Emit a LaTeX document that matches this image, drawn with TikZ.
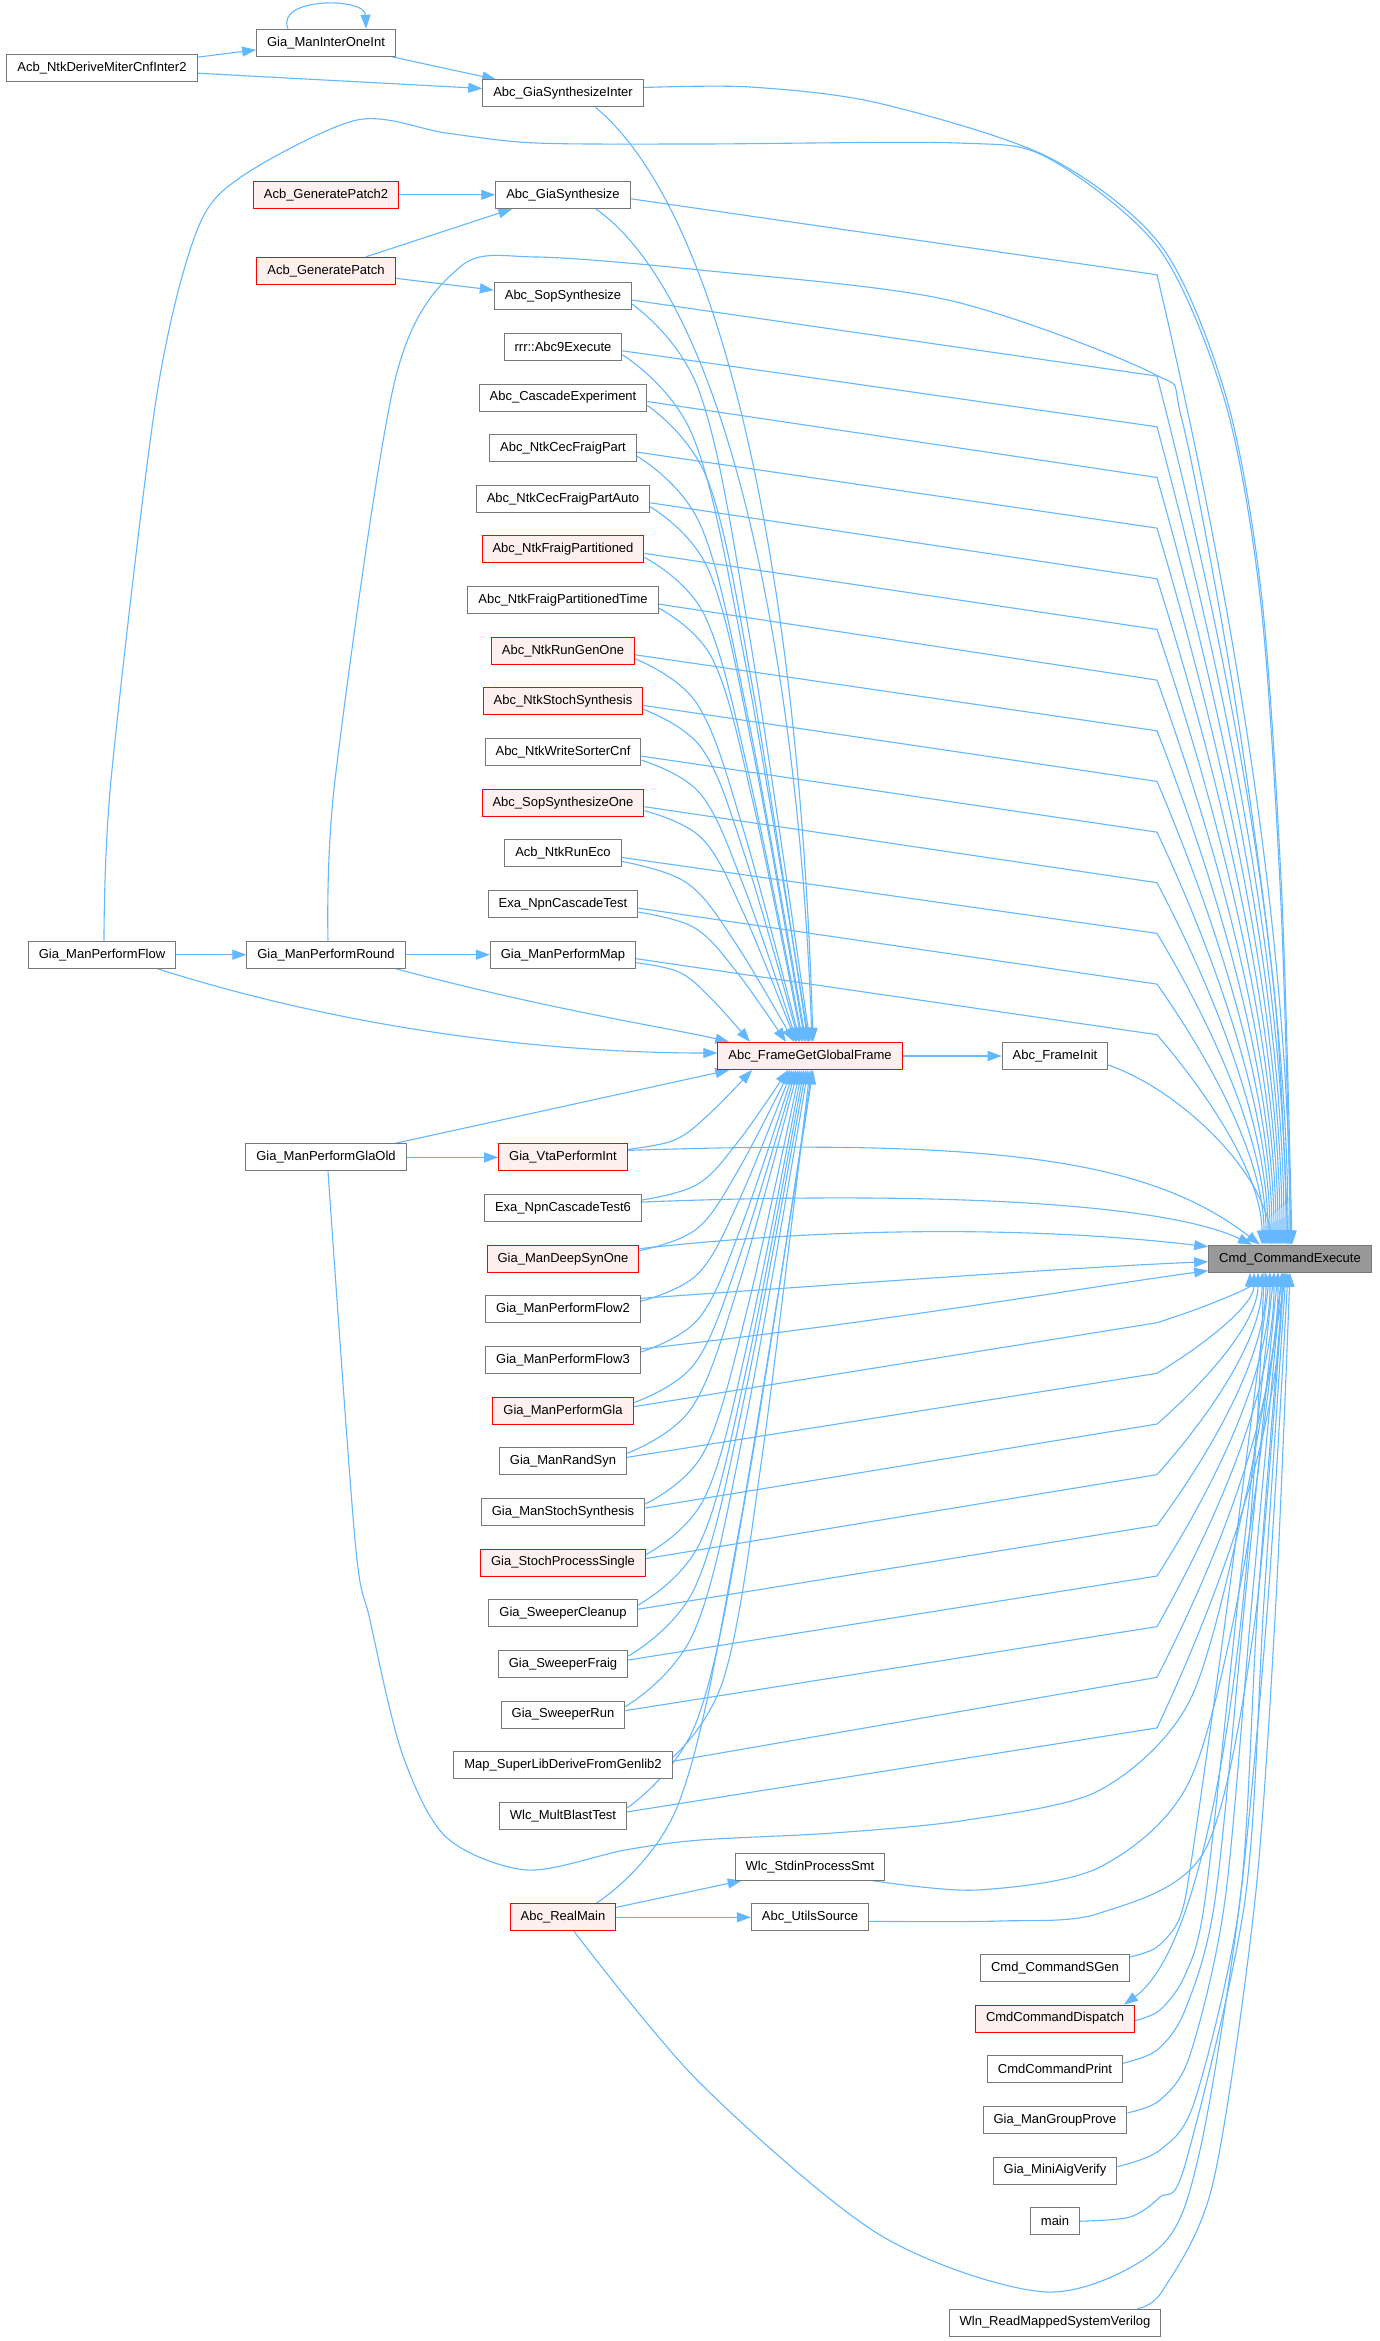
\documentclass[tikz,border=0pt]{standalone}
\usepackage{fontspec}
\setmainfont{Liberation Sans}
\usetikzlibrary{arrows.meta,calc}
\definecolor{edgec}{HTML}{63B8FF}
\definecolor{nodeb}{HTML}{777777}
\definecolor{redfill}{HTML}{FFF0F0}
\definecolor{rootfill}{HTML}{999999}
\pgfdeclarelayer{bg}
\pgfsetlayers{bg,main}
\begin{document}
\begin{tikzpicture}[x=1pt,y=1pt,
  nb/.style={draw=nodeb, fill=white, line width=1pt, minimum height=27pt, inner xsep=10.5pt, inner ysep=0pt, font=\fontsize{13}{15}\selectfont},
  rb/.style={nb, draw=red, fill=redfill},
  rootb/.style={nb, draw=nodeb, fill=rootfill},
  edge/.style={draw=edgec, line width=1.1pt, -{Triangle[length=14pt,width=10pt]}, fill=none}]
\useasboundingbox (0,0) rectangle (1380,-2341);
% nodes
\node[nb] (derive) at (102,-68.2) {Acb\_NtkDeriveMiterCnfInter2};
\node[nb] (inter) at (326,-42.8) {Gia\_ManInterOneInt};
\node[rb] (patch2) at (326,-194.8) {Acb\_GeneratePatch2};
\node[rb] (patch) at (326,-270.8) {Acb\_GeneratePatch};
\node[nb] (flow) at (102,-954.7) {Gia\_ManPerformFlow};
\node[nb] (round) at (326,-954.7) {Gia\_ManPerformRound};
\node[nb] (glaold) at (326,-1157.4) {Gia\_ManPerformGlaOld};
\node[nb] (c0) at (563,-93.5) {Abc\_GiaSynthesizeInter};
\node[nb] (c2) at (563,-194.8) {Abc\_GiaSynthesize};
\node[nb] (c4) at (563,-296.1) {Abc\_SopSynthesize};
\node[nb] (c5) at (563,-346.8) {rrr::Abc9Execute};
\node[nb] (c6) at (563,-397.5) {Abc\_CascadeExperiment};
\node[nb] (c7) at (563,-448.1) {Abc\_NtkCecFraigPart};
\node[nb] (c8) at (563,-498.8) {Abc\_NtkCecFraigPartAuto};
\node[rb] (c9) at (563,-549.4) {Abc\_NtkFraigPartitioned};
\node[nb] (c10) at (563,-600.1) {Abc\_NtkFraigPartitionedTime};
\node[rb] (c11) at (563,-650.8) {Abc\_NtkRunGenOne};
\node[rb] (c12) at (563,-701.4) {Abc\_NtkStochSynthesis};
\node[nb] (c13) at (563,-752.1) {Abc\_NtkWriteSorterCnf};
\node[rb] (c14) at (563,-802.7) {Abc\_SopSynthesizeOne};
\node[nb] (c15) at (563,-853.4) {Acb\_NtkRunEco};
\node[nb] (c16) at (563,-904.1) {Exa\_NpnCascadeTest};
\node[nb] (c17) at (563,-954.7) {Gia\_ManPerformMap};
\node[rb] (c21) at (563,-1157.4) {Gia\_VtaPerformInt};
\node[nb] (c22) at (563,-1208.0) {Exa\_NpnCascadeTest6};
\node[rb] (c23) at (563,-1258.7) {Gia\_ManDeepSynOne};
\node[nb] (c24) at (563,-1309.3) {Gia\_ManPerformFlow2};
\node[nb] (c25) at (563,-1360.0) {Gia\_ManPerformFlow3};
\node[rb] (c26) at (563,-1410.7) {Gia\_ManPerformGla};
\node[nb] (c27) at (563,-1461.3) {Gia\_ManRandSyn};
\node[nb] (c28) at (563,-1512.0) {Gia\_ManStochSynthesis};
\node[rb] (c29) at (563,-1562.6) {Gia\_StochProcessSingle};
\node[nb] (c30) at (563,-1613.3) {Gia\_SweeperCleanup};
\node[nb] (c31) at (563,-1664.0) {Gia\_SweeperFraig};
\node[nb] (c32) at (563,-1714.6) {Gia\_SweeperRun};
\node[nb] (c33) at (563,-1765.3) {Map\_SuperLibDeriveFromGenlib2};
\node[nb] (c34) at (563,-1815.9) {Wlc\_MultBlastTest};
\node[rb] (c36) at (563,-1917.3) {Abc\_RealMain};
\node[rb] (gf) at (810,-1056) {Abc\_FrameGetGlobalFrame};
\node[nb] (init) at (1055,-1056) {Abc\_FrameInit};
\node[rootb] (ce) at (1290,-1258.7) {Cmd\_CommandExecute};
\node[nb] (stdin) at (810,-1866.6) {Wlc\_StdinProcessSmt};
\node[nb] (utils) at (810,-1917.3) {Abc\_UtilsSource};
\node[nb] (e37) at (1055,-1967.9) {Cmd\_CommandSGen};
\node[rb] (e38) at (1055,-2018.6) {CmdCommandDispatch};
\node[nb] (e39) at (1055,-2069.2) {CmdCommandPrint};
\node[nb] (e40) at (1055,-2119.9) {Gia\_ManGroupProve};
\node[nb] (e41) at (1055,-2170.6) {Gia\_MiniAigVerify};
\node[nb] (e42) at (1055,-2221.2) {main};
\node[nb] (e44) at (1055,-2322.5) {Wln\_ReadMappedSystemVerilog};

\begin{pgfonlayer}{bg}
\fill[white] (0,0) rectangle (1380,-2341);
% simple edges
\draw[edge] ($(derive.east)+(0,11)$) -- ($(inter.west)+(0,-7)$);
\draw[edge] ($(derive.east)+(0,-5)$) -- ($(c0.west)+(0,5)$);
\draw[edge] ($(inter.south east)+(-4,0)$) -- ($(c0.north west)+(14,0)$);
\draw[edge] ($(inter.north)+(-38,0)$) .. controls (275,3) and (365,3) .. ($(inter.north)+(40,0)$);
\draw[edge] (patch2.east) -- (c2.west);
\draw[edge] ($(patch.north)+(40,0)$) -- ($(c2.south west)+(17,0)$);
\draw[edge] ($(patch.east)+(0,-7.5)$) -- ($(c4.west)+(0,6)$);
\draw[edge] (flow.east) -- (round.west);
\draw[edge] (round.east) -- (c17.west);
\draw[edge] (glaold.east) -- (c21.west);
\draw[edge] (gf.east) -- (init.west);
\draw[edge] ($(c36.east)+(0,10)$) -- ($(stdin.south west)+(7,0)$);
\draw[edge] (c36.east) -- (utils.west);

% edges into Abc_FrameGetGlobalFrame
\draw[edge] ($(flow.south east)+(-19,0)$) .. controls (350,-1030) and (550,-1053) .. ($(gf.west)+(0,3)$);
\draw[edge] ($(round.south east)+(-10,0)$) .. controls (550,-1010) and (680,-1030) .. ($(gf.north west)+(12,0)$);
\draw[edge] ($(glaold.north east)+(-12,0)$) -- ($(gf.south west)+(12,0)$);
\draw[edge] ($(c0.south east)+(-48,0)$) .. controls (730,-220) and (800,-600) .. ($(gf.north)+(3,0)$);
\draw[edge] ($(c2.south east)+(-35,0)$) .. controls (725,-300) and (798,-650) .. ($(gf.north)+(2,0)$);
\foreach \nd/\xg in {c4/810, c5/809, c6/808, c7/806, c8/805, c9/803, c10/802, c11/800, c12/799, c13/797, c14/796, c15/794, c16/786, c17/750}{
  \draw[edge] let \p1=($(\nd.east)+(0,-8)$), \n1={\xg-\x1}, \n2={\y1+1042.5} in
    plot[smooth,tension=0.6] coordinates {(\p1) ({\x1+0.38*\n1},{\y1-0.12*\n2}) ({\x1+0.66*\n1},{\y1-0.45*\n2}) ($(gf.north)+({\xg-810},0)$)};
}
\foreach \nd/\xg in {c21/752, c22/788, c23/790, c24/792, c25/794, c26/796, c27/798, c28/800, c29/802, c30/804, c31/806, c32/808, c33/810, c34/812}{
  \draw[edge] let \p1=($(\nd.east)+(0,8)$), \n1={\xg-\x1}, \n2={-1069.5-\y1} in
    plot[smooth,tension=0.6] coordinates {(\p1) ({\x1+0.38*\n1},{\y1+0.12*\n2}) ({\x1+0.66*\n1},{\y1+0.45*\n2}) ($(gf.south)+({\xg-810},0)$)};
}
\draw[edge] let \p1=($(c36.north east)+(-20,0)$), \n1={813-\x1}, \n2={-1069.5-\y1} in
    plot[smooth,tension=0.6] coordinates {(\p1) ({\x1+0.38*\n1},{\y1+0.12*\n2}) ({\x1+0.66*\n1},{\y1+0.45*\n2}) ($(gf.south)+(3,0)$)};

% edges into Cmd_CommandExecute from above
\draw[edge] plot[smooth,tension=0.5] coordinates {($(c0.east)+(0,6)$) (750,-87) (878,-103) (1048,-157) (1162,-247) (1227,-400) (1262,-600) (1282,-900) ($(ce.north)+(2,0)$)};
\draw[edge] plot[smooth,tension=0.5] coordinates {($(flow.north)+(2,0)$) (111,-780) (156,-400) (196,-233) (241,-177) (357,-120) (446,-133) (536,-143) (700,-144) (958,-143) (1048,-158) (1160,-250) (1226,-405) (1261,-605) (1281,-905) ($(ce.north)+(1,0)$)};
\draw[edge] plot[smooth,tension=0.5] coordinates {($(round.north)+(2,0)$) (335,-780) (395,-380) (460,-267) (536,-257) (700,-270) (948,-300) (1152,-373) (1182,-420) (1235,-700) (1275,-1000) ($(ce.north)+(-2,0)$)};
\foreach \nd/\yy/\xe in {c2/194.8/1290, c4/296.1/1288, c5/346.8/1286, c6/397.5/1284, c7/448.1/1282, c8/498.8/1280, c9/549.4/1278, c10/600.1/1276, c11/650.8/1274, c12/701.4/1272, c13/752.1/1270, c14/802.7/1268, c15/853.4/1266, c16/904.1/1264, c17/954.7/1262}{
  \pgfmathsetmacro\yb{\yy+80}
  \pgfmathsetmacro\hh{1245.2-\yb}
  \draw[edge] ($(\nd.east)+(0,-4)$) -- (1157,{-\yb}) .. controls ({1157+0.6*(\xe-1157)},{-\yb-0.35*\hh}) and (\xe,{-\yb-0.7*\hh}) .. ($(ce.north)+({\xe-1290},0)$);
}
\draw[edge] ($(init.east)+(0,-9)$) .. controls (1180,-1090) and (1262,-1170) .. ($(ce.north)+(-18,0)$);
\draw[edge] ($(c21.east)+(0,7)$) .. controls (1000,-1138) and (1150,-1160) .. ($(ce.north)+(-30,0)$);
\draw[edge] ($(c22.east)+(0,6)$) .. controls (950,-1190) and (1170,-1205) .. ($(ce.north)+(-38,0)$);
\draw[edge] ($(c23.east)+(0,10)$) .. controls (850,-1225) and (1050,-1228) .. ($(ce.west)+(0,12)$);
\draw[edge] ($(c24.east)+(0,11)$) .. controls (900,-1280) and (1100,-1266) .. ($(ce.west)+(0,-3)$);
\draw[edge] ($(c25.east)+(0,11)$) .. controls (900,-1320) and (1100,-1285) .. ($(ce.west)+(0,-12)$);

% edges into Cmd_CommandExecute from below
\foreach \nd/\yy/\xe in {c26/1410.7/1250, c27/1461.3/1254, c28/1512.0/1258, c29/1562.6/1262, c30/1613.3/1266, c31/1664.0/1270, c32/1714.6/1274, c33/1765.3/1278, c34/1815.9/1282}{
  \pgfmathsetmacro\yb{\yy-88}
  \pgfmathsetmacro\hh{\yb-1272.2}
  \draw[edge] ($(\nd.east)+(0,4)$) -- (1157,{-\yb}) .. controls ({1157+0.6*(\xe-1157)},{-\yb+0.35*\hh}) and (\xe,{-\yb+0.7*\hh}) .. ($(ce.south)+({\xe-1290},0)$);
}
\draw[edge] plot[smooth,tension=0.5] coordinates {($(glaold.south)+(2,0)$) (355,-1540) (370,-1620) (402,-1753) (446,-1837) (527,-1870) (625,-1850) (700,-1840) (833,-1833) (967,-1820) (1100,-1790) (1190,-1700) (1245,-1500) ($(ce.south)+(-4,0)$)};
\draw[edge] plot[smooth,tension=0.5] coordinates {($(c36.south)+(11,0)$) (700,-2083) (880,-2235) (1047,-2292) (1160,-2247) (1200,-2150) (1240,-1900) (1268,-1600) ($(ce.south)+(-2,0)$)};
\draw[edge] plot[smooth,tension=0.5] coordinates {($(stdin.south east)+(-13,0)$) (977,-1890) (1100,-1867) (1190,-1780) (1245,-1560) ($(ce.south)+(-8,0)$)};
\draw[edge] plot[smooth,tension=0.5] coordinates {($(utils.east)+(0,-4)$) (1000,-1921) (1100,-1913) (1205,-1850) (1255,-1620) ($(ce.south)+(-6,0)$)};
\draw[edge] plot[smooth,tension=0.5] coordinates {($(e37.east)+(0,11)$) (1157,-1947) (1180,-1917) (1193,-1850) (1228,-1600) ($(ce.south)+(-20,0)$)};
\draw[edge] plot[smooth,tension=0.5] coordinates {($(e38.east)+(0,-2)$) (1160,-2010) (1185,-1975) (1205,-1900) (1238,-1600) ($(ce.south)+(-16,0)$)};
\draw[edge] plot[smooth,tension=0.5] coordinates {($(e39.east)+(0,6)$) (1157,-2050) (1185,-2010) (1215,-1900) (1245,-1600) ($(ce.south)+(-12,0)$)};
\draw[edge] plot[smooth,tension=0.5] coordinates {($(e40.east)+(0,7)$) (1160,-2100) (1190,-2055) (1225,-1900) (1252,-1600) ($(ce.south)+(-8,0)$)};
\draw[edge] plot[smooth,tension=0.5] coordinates {($(e41.east)+(0,4)$) (1160,-2150) (1195,-2100) (1240,-1900) (1258,-1600) ($(ce.south)+(-6,0)$)};
\draw[edge] plot[smooth,tension=0.5] coordinates {(e42.east) (1130,-2217) (1160,-2197) (1185,-2165) (1245,-1900) (1264,-1600) ($(ce.south)+(-4,0)$)};
\draw[edge] plot[smooth,tension=0.5] coordinates {($(e44.north east)+(-24,0)$) (1163,-2290) (1213,-2183) (1255,-1900) (1276,-1600) ($(ce.south)+(0,0)$)};
\draw[edge] ($(ce.south)+(-26,0)$) .. controls (1250,-1700) and (1200,-1950) .. ($(e38.north east)+(-11,0)$);
\end{pgfonlayer}
\end{tikzpicture}
\end{document}
